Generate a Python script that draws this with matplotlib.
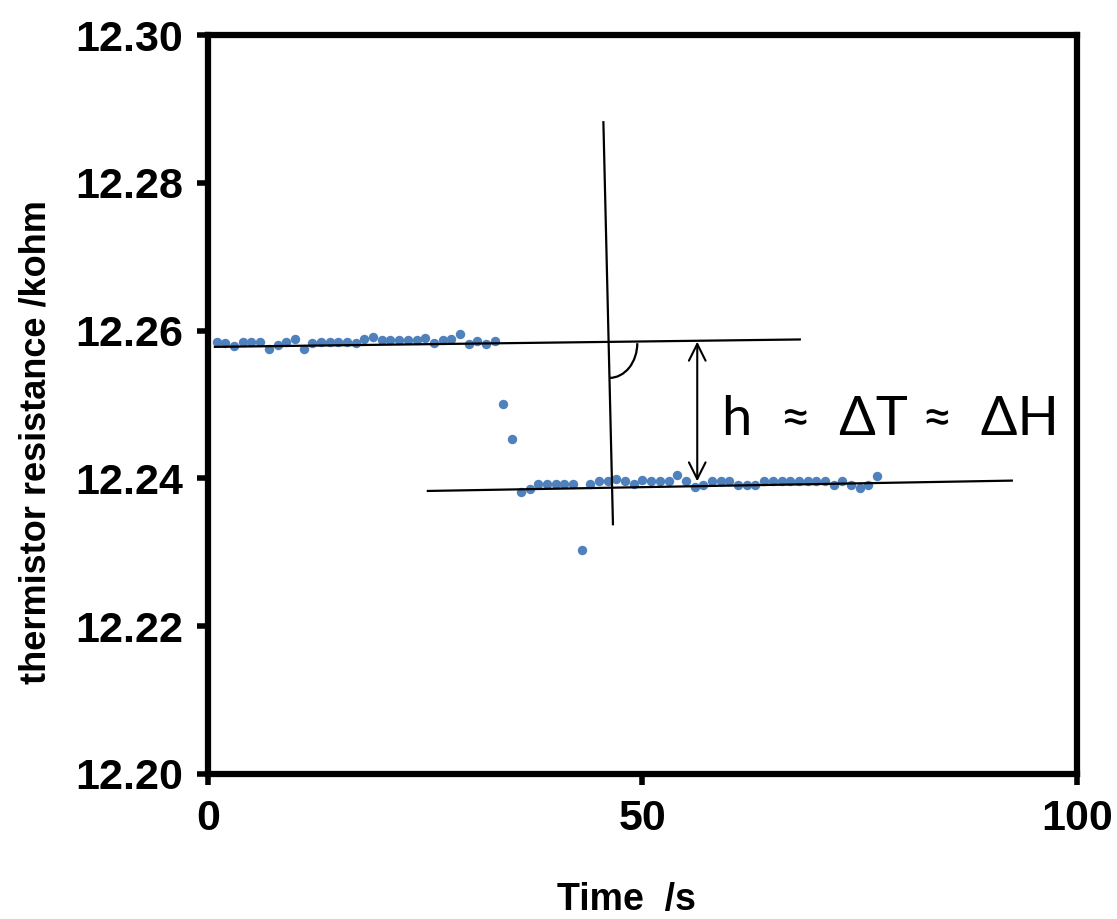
import matplotlib

matplotlib.use("Agg")

import matplotlib.pyplot as plt
from matplotlib.patches import Arc

# sample times (s) and thermistor readings (kohm)
time_s = [
    1, 2, 3, 4, 5, 6, 7, 8, 9, 10, 11, 12, 13, 14, 15, 16, 17, 18, 19, 20,
    21, 22, 23, 24, 25, 26, 27, 28, 29, 30, 31, 32, 33, 34, 35, 36, 37, 38,
    39, 40, 41, 42, 43, 44, 45, 46, 47, 48, 49, 50, 51, 52, 53, 54, 55, 56,
    57, 58, 59, 60, 61, 62, 63, 64, 65, 66, 67, 68, 69, 70, 71, 72, 73, 74,
    75, 76, 77,
]
resistance = [
    12.2584, 12.2583, 12.2579, 12.2584, 12.2584, 12.2584, 12.2575, 12.2580,
    12.2584, 12.2588, 12.2575, 12.2583, 12.2584, 12.2584, 12.2584, 12.2584,
    12.2583, 12.2588, 12.2591, 12.2587, 12.2587, 12.2587, 12.2587, 12.2587,
    12.2590, 12.2583, 12.2587, 12.2588, 12.2595, 12.2582, 12.2586, 12.2582,
    12.2586,
    12.2501, 12.2453, 12.2381, 12.2385, 12.2393, 12.2392, 12.2392, 12.2392,
    12.2392, 12.2303, 12.2392, 12.2396, 12.2396, 12.2399, 12.2396, 12.2392,
    12.2398, 12.2396, 12.2396, 12.2397, 12.2404, 12.2396, 12.2389, 12.2391,
    12.2397, 12.2397, 12.2397, 12.2391, 12.2391, 12.2391, 12.2397, 12.2397,
    12.2397, 12.2397, 12.2397, 12.2397, 12.2397, 12.2397, 12.2391, 12.2397,
    12.2391, 12.2387, 12.2391, 12.2403,
]

# hand-drawn construction lines (x pair, y pair)
pre_line_x = [0.8, 68.1]
pre_line_y = [12.2578, 12.2588]
post_line_x = [25.3, 92.5]
post_line_y = [12.2383, 12.2397]
vert_line_x = [45.5, 46.6]
vert_line_y = [12.2882, 12.2338]
arrow_x = 56.3
arrow_y = [12.2585, 12.2396]

x_ticks = [0, 50, 100]
y_ticks = [12.20, 12.22, 12.24, 12.26, 12.28, 12.30]

tick_font = "Liberation Sans"

fig = plt.figure(figsize=(11.17, 9.19), dpi=100, facecolor="white")
ax = fig.add_axes([0.1862, 0.1578, 0.778, 0.8041])

ax.scatter(time_s, resistance, s=46, color="#4f81bd", zorder=3, linewidths=0)

ax.plot(pre_line_x, pre_line_y, color="black", lw=1.6, zorder=4)
ax.plot(post_line_x, post_line_y, color="black", lw=1.6, zorder=4)
ax.plot(vert_line_x, vert_line_y, color="black", lw=1.6, zorder=4)

ax.annotate(
    "",
    xy=(arrow_x, arrow_y[1]),
    xytext=(arrow_x, arrow_y[0]),
    arrowprops=dict(arrowstyle="<->", color="black", lw=1.5,
                    mutation_scale=30, shrinkA=0, shrinkB=0),
    zorder=5,
)

ax.add_patch(Arc((46.2, 12.2583), width=6.4, height=0.0094,
                 theta1=270, theta2=360, color="black", lw=1.6, zorder=4))

ax.text(59.1, 12.2480, "h  \u2248  \u0394T \u2248  \u0394H", fontsize=39,
        family="Lato", ha="left", va="center", color="black")

ax.set_xlim(0, 100)
ax.set_ylim(12.20, 12.30)
ax.set_xticks(x_ticks)
ax.set_yticks(y_ticks)
ax.set_xticklabels([str(v) for v in x_ticks])
ax.set_yticklabels([f"{v:.2f}" for v in y_ticks])
for lab in ax.get_xticklabels() + ax.get_yticklabels():
    lab.set_fontfamily(tick_font)
    lab.set_fontweight("bold")
    lab.set_fontsize(31)

ax.tick_params(direction="out", length=8, width=4, pad=10)
for sp in ax.spines.values():
    sp.set_linewidth(4.5)
    sp.set_color("black")

ax.set_xlabel("Time  /s", fontsize=27, fontweight="bold", family=tick_font)
ax.set_ylabel("thermistor resistance /kohm", fontsize=26, fontweight="bold",
              family=tick_font)
ax.xaxis.set_label_coords(0.482, -0.146)
ax.yaxis.set_label_coords(-0.178, 0.449)

fig.savefig("out.png", dpi=100, facecolor="white")
